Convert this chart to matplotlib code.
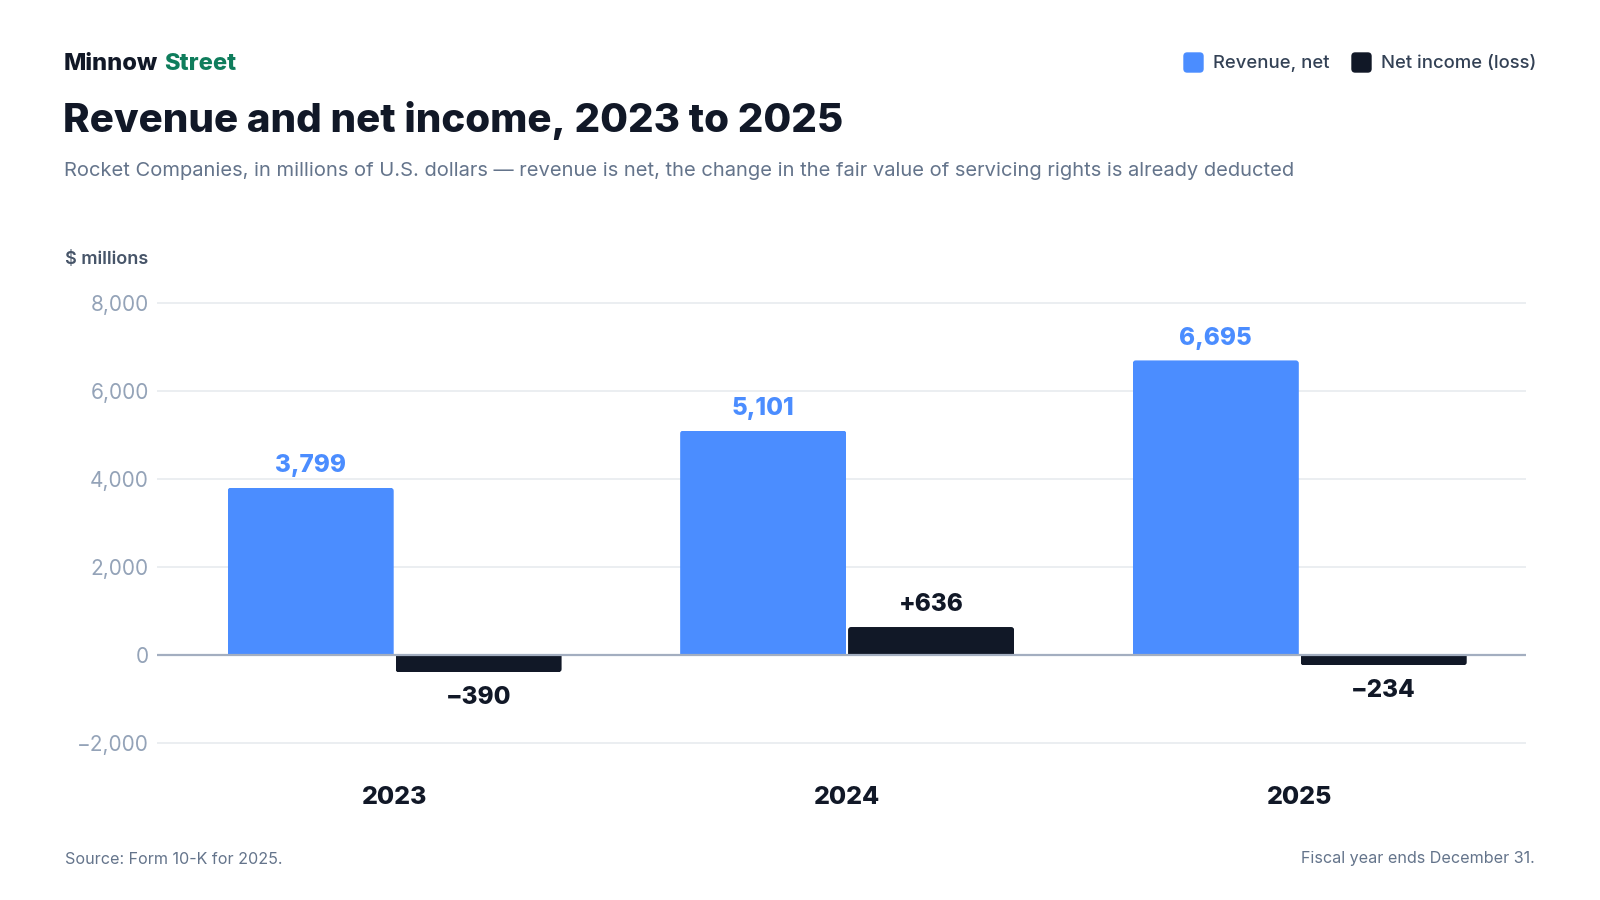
import matplotlib.pyplot as plt
import numpy as np
from matplotlib.patches import FancyBboxPatch, Rectangle
from matplotlib.transforms import blended_transform_factory

plt.rcParams['font.family'] = ['Inter', 'DejaVu Sans']

# ── Data ─────────────────────────────────────────────────────────────
years = ['2023', '2024', '2025']
revenue = [3799, 5101, 6695]
net_income = [-390, 636, -234]
yticks = [-2000, 0, 2000, 4000, 6000, 8000]

BLUE = '#4b8dff'
DARK = '#111827'
GREEN = '#0f7d5c'
GRID = '#e8ebef'
ZERO = '#a3aec0'
TICK = '#94a3b8'
MUTED = '#64748b'

W, H = 1600, 900
fig = plt.figure(figsize=(16, 9), dpi=100)
fig.patch.set_facecolor('white')


def fx(px):
    return px / W


def fy(py):
    return 1 - py / H


# axes placed so that 0 sits at y=655px and 2,000 units = 88px
ylo, yhi = -2200, 8200
ppu = 88 / 2000
top_px = 655 - yhi * ppu
bot_px = 655 - ylo * ppu
ax = fig.add_axes((fx(157), fy(bot_px), fx(1526) - fx(157), (bot_px - top_px) / H))
ax.set_ylim(ylo, yhi)
ax.set_xlim(-0.525, 2.5)

x = np.arange(len(years))
bw = 0.367
gap = 0.002
bars_rev = ax.bar(x - bw / 2 - gap, revenue, width=bw, color=BLUE, zorder=3)
bars_ni = ax.bar(x + bw / 2 + gap, net_income, width=bw, color=DARK, zorder=3)

# round the outer corners (~3px) of every bar, keep the baseline edge square
px_per_x = (1526 - 157) / (2.5 + 0.525)
r_x = 3 / px_per_x
r_y = 3 / ppu
for bars in (bars_rev, bars_ni):
    for b in bars:
        bx, by = b.get_x(), b.get_y()
        bwid, bh = b.get_width(), b.get_height()
        y0, y1 = min(by, by + bh), max(by, by + bh)
        # extend past the baseline so only the outer corners show rounding
        if bh >= 0:
            ry0, ry1 = y0 - 2 * r_y, y1
        else:
            ry0, ry1 = y0, y1 + 2 * r_y
        rp = FancyBboxPatch((bx, ry0), bwid, ry1 - ry0,
                            boxstyle=f'round,pad=0,rounding_size={r_x}',
                            mutation_aspect=r_y / r_x,
                            color=b.get_facecolor(), zorder=3, lw=0)
        ax.add_patch(rp)
        rp.set_clip_path(Rectangle((bx, y0), bwid, y1 - y0, transform=ax.transData))
        b.set_visible(False)

for yv in yticks:
    if yv == 0:
        ax.axhline(0, color=ZERO, lw=1.6, zorder=4)
    else:
        ax.axhline(yv, color=GRID, lw=1.2, zorder=1)

ax.set_yticks(yticks)
ax.set_yticklabels([f'{v:,}'.replace('-', '\u2212') for v in yticks],
                   fontsize=15, color=TICK)
ax.tick_params(axis='y', length=0, pad=6)
ax.set_xticks([])
for s in ax.spines.values():
    s.set_visible(False)

# value labels
for xi, v in zip(x, revenue):
    ax.annotate(f'{v:,}', (xi - bw / 2 - gap, v), xytext=(0, 16),
                textcoords='offset points', ha='center', va='center',
                fontsize=17.5, fontweight='heavy', color=BLUE)
for xi, v in zip(x, net_income):
    lab = f'+{v:,}' if v > 0 else f'\u2212{abs(v):,}'
    off = 16 if v > 0 else -18
    ax.annotate(lab, (xi + bw / 2 + gap, v), xytext=(0, off),
                textcoords='offset points', ha='center', va='center',
                fontsize=17.5, fontweight='heavy', color=DARK)

# year labels
tr = blended_transform_factory(ax.transData, fig.transFigure)
for xi, yr in zip(x, years):
    ax.text(xi, fy(797), yr, transform=tr, ha='center', va='center',
            fontsize=18, fontweight='heavy', color=DARK)

# ── Header ───────────────────────────────────────────────────────────
fig.text(fx(64), fy(64), 'Minnow', fontsize=17, fontweight='heavy',
         color=DARK, va='center')
fig.text(fx(164), fy(64), 'Street', fontsize=17, fontweight='heavy',
         color=GREEN, va='center')
fig.text(fx(63), fy(121), 'Revenue and net income, 2023 to 2025',
         fontsize=29, fontweight='heavy', color=DARK, va='center')
fig.text(fx(64), fy(171),
         'Rocket Companies, in millions of U.S. dollars \u2014 revenue is net, '
         'the change in the fair value of servicing rights is already deducted',
         fontsize=14.5, color=MUTED, va='center')
fig.text(fx(65), fy(260), '$ millions', fontsize=13, fontweight='semibold',
         color='#475569', va='center')

# legend
for (x0, col, lab) in [(1184, BLUE, 'Revenue, net'), (1352, DARK, 'Net income (loss)')]:
    fig.patches.append(FancyBboxPatch((fx(x0), fy(72)), fx(19), 19 / H,
                                      boxstyle='round,pad=0,rounding_size=0.002',
                                      transform=fig.transFigure, color=col,
                                      mutation_aspect=W / H))
    fig.text(fx(x0 + 29), fy(63), lab, fontsize=13.3, fontweight='medium',
             color='#334155', va='center')

# footer
fig.text(fx(65), fy(859), 'Source: Form 10-K for 2025.', fontsize=11.6,
         color=MUTED, va='center')
fig.text(fx(1535), fy(859), 'Fiscal year ends December 31.', fontsize=11.6,
         color=MUTED, va='center', ha='right')

fig.savefig('out.png', dpi=100, facecolor='white')
